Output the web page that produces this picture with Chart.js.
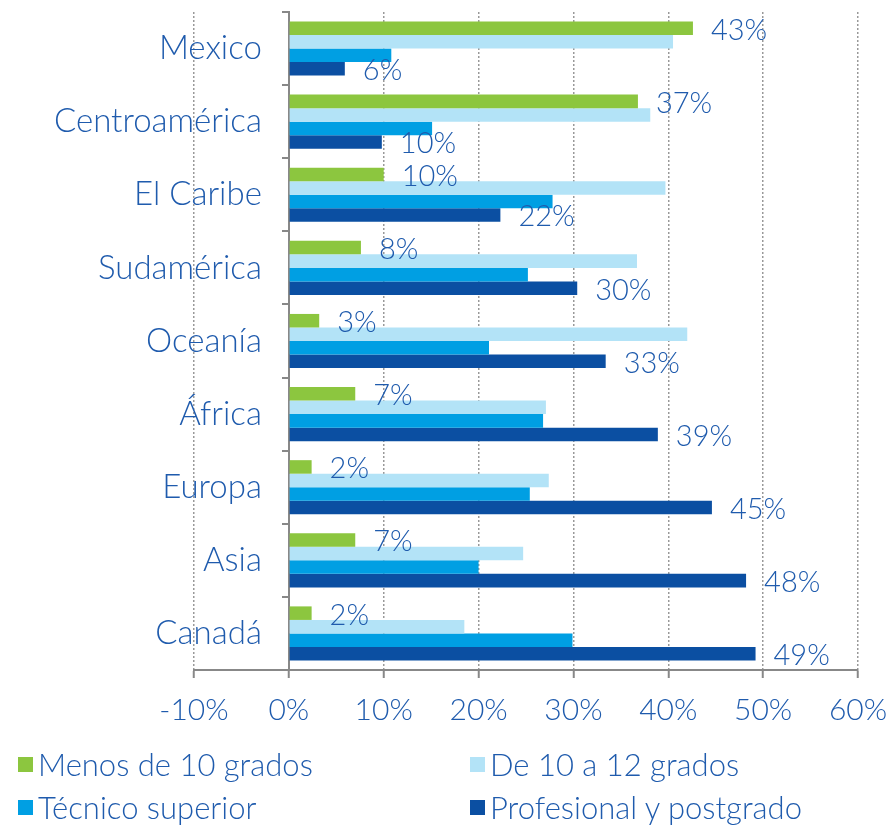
<!DOCTYPE html>
<html>
<head>
<meta charset="utf-8">
<script src="https://cdn.jsdelivr.net/npm/chart.js@4.4.1/dist/chart.umd.min.js"></script>
<style>
body { margin: 0; background: #fff; }
#wrap { position: relative; width: 892px; height: 826px; }
#legend { position: absolute; left: 0; top: 0; width: 892px; height: 826px; pointer-events: none;
  font-family: Lato, sans-serif; font-weight: 300; font-size: 31px; color: #1f5bad; }
.item { position: absolute; display: flex; align-items: center; white-space: nowrap; height: 36px; }
.box { width: 15px; height: 15px; margin-right: 5px; }
</style>
</head>
<body>
<div id="wrap">
  <canvas id="chart" width="892" height="826"></canvas>
  <div id="legend"></div>
</div>
<script>
const regions = ['Mexico', 'Centroamérica', 'El Caribe', 'Sudamérica', 'Oceanía', 'África', 'Europa', 'Asia', 'Canadá'];
const menos10 = [42.6, 36.8, 10.0, 7.6, 3.2, 7.0, 2.4, 7.0, 2.4];
const de10a12 = [40.5, 38.1, 39.7, 36.7, 42.0, 27.1, 27.4, 24.7, 18.5];
const tecnico = [10.8, 15.1, 27.8, 25.2, 21.1, 26.8, 25.4, 20.0, 29.9];
const profesional = [5.9, 9.8, 22.3, 30.4, 33.4, 38.9, 44.6, 48.2, 49.2];
const seriesNames = ['Menos de 10 grados', 'De 10 a 12 grados', 'Técnico superior', 'Profesional y postgrado'];
const xTicks = [-10, 0, 10, 20, 30, 40, 50, 60];

const colors = ['#8cc63f', '#b3e3f7', '#009fe3', '#0b4fa2'];
const textColor = '#1f5bad';

// etiquetas de categoria y de valores
const labelsPlugin = {
  id: 'labels',
  afterDraw(chart) {
    const ctx = chart.ctx;
    const xs = chart.scales.x, ys = chart.scales.y;
    ctx.save();
    ctx.fillStyle = textColor;
    ctx.textBaseline = 'middle';
    ctx.font = '300 33px Lato';
    ctx.textAlign = 'right';
    regions.forEach((r, i) => {
      ctx.fillText(r, xs.getPixelForValue(0) - 27, ys.getPixelForValue(i));
    });
    ctx.font = '300 29px Lato';
    ctx.textAlign = 'left';
    [0, 3].forEach(d => {
      const meta = chart.getDatasetMeta(d);
      meta.data.forEach((bar, i) => {
        const v = chart.data.datasets[d].data[i];
        ctx.fillText(Math.round(v) + '%', bar.x + 18, bar.y + 2);
      });
    });
    ctx.restore();
  }
};

new Chart('chart', {
  type: 'bar',
  data: {
    labels: regions,
    datasets: [menos10, de10a12, tecnico, profesional].map((d, i) => ({
      label: seriesNames[i],
      data: d,
      backgroundColor: colors[i],
      categoryPercentage: 0.74,
      barPercentage: 1
    }))
  },
  options: {
    indexAxis: 'y',
    responsive: false,
    animation: false,
    layout: { padding: { top: 12, left: 194, right: 34, bottom: 84 } },
    plugins: { legend: { display: false }, tooltip: { enabled: false } },
    scales: {
      x: {
        min: -10, max: 60,
        afterBuildTicks: s => { s.ticks = xTicks.map(v => ({ value: v })); },
        afterFit: s => { s.paddingLeft = 0; s.paddingRight = 0; },
        ticks: { color: textColor, font: { family: 'Lato', weight: 300, size: 30 }, padding: 14, callback: v => v + '%' },
        grid: { color: '#999', lineWidth: 1.5, tickLength: 8, tickColor: '#888', tickWidth: 2 },
        border: { color: '#888', width: 2, dash: [2, 2] }
      },
      y: {
        position: { x: 0 },
        ticks: { display: false },
        grid: { drawOnChartArea: false, tickLength: 6, color: '#888', lineWidth: 2, offset: true },
        border: { color: '#888', width: 2 }
      }
    }
  },
  plugins: [labelsPlugin]
});

// leyenda en dos columnas
const legend = document.getElementById('legend');
const pos = [[18, 746], [470, 746], [18, 789], [470, 789]];
seriesNames.forEach((n, i) => {
  const it = document.createElement('div');
  it.className = 'item';
  it.style.left = pos[i][0] + 'px';
  it.style.top = pos[i][1] + 'px';
  it.innerHTML = '<span class="box" style="background:' + colors[i] + '"></span><span>' + n + '</span>';
  legend.appendChild(it);
});
</script>
</body>
</html>
